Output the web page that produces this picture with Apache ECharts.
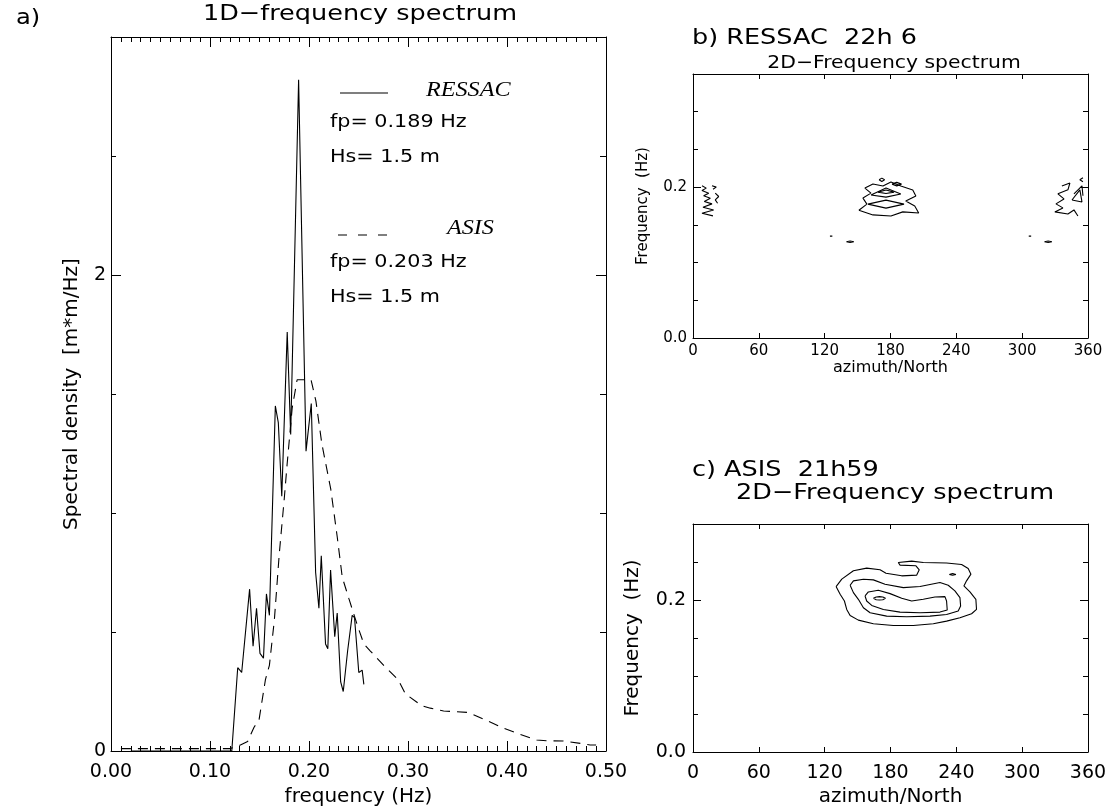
<!DOCTYPE html>
<html><head><meta charset="utf-8">
<script src="https://cdn.jsdelivr.net/npm/echarts@6/dist/echarts.min.js"></script>
<style>html,body{margin:0;padding:0;background:#fff}#c{width:1107px;height:809px}</style>
</head><body><div id="c"></div>
<script>
// ---------- Panel a: 1D spectra ----------
const ressacFreq = [0.020, 0.122, 0.124, 0.128, 0.132, 0.140, 0.1435, 0.147, 0.1505, 0.154, 0.157, 0.160, 0.166, 0.169, 0.1725, 0.178, 0.1815, 0.1895, 0.197, 0.2023, 0.2067, 0.210, 0.2124, 0.2167, 0.219, 0.2218, 0.226, 0.2285, 0.232, 0.2346, 0.239, 0.2436, 0.246, 0.2503, 0.2537, 0.2554];
const ressacDensity = [0.0, 0.0, 0.0, 0.35, 0.33, 0.68, 0.44, 0.60, 0.41, 0.39, 0.66, 0.57, 1.45, 1.38, 1.07, 1.76, 1.33, 2.82, 1.26, 1.46, 0.75, 0.60, 0.82, 0.45, 0.43, 0.76, 0.48, 0.58, 0.29, 0.25, 0.42, 0.57, 0.56, 0.33, 0.34, 0.28];
const asisFreq = [0.010, 0.120, 0.128, 0.138, 0.1445, 0.1495, 0.156, 0.160, 0.165, 0.170, 0.175, 0.178, 0.183, 0.188, 0.195, 0.202, 0.207, 0.213, 0.222, 0.2285, 0.2336, 0.2403, 0.2487, 0.2554, 0.262, 0.2755, 0.290, 0.2974, 0.314, 0.3226, 0.336, 0.3444, 0.3612, 0.378, 0.3965, 0.410, 0.430, 0.440, 0.457, 0.474, 0.484, 0.490];
const asisDensity = [0.01, 0.01, 0.02, 0.04, 0.10, 0.13, 0.30, 0.36, 0.55, 0.83, 1.06, 1.21, 1.44, 1.56, 1.56, 1.56, 1.47, 1.29, 1.10, 0.90, 0.73, 0.64, 0.53, 0.45, 0.42, 0.36, 0.30, 0.24, 0.19, 0.18, 0.168, 0.166, 0.162, 0.131, 0.096, 0.075, 0.046, 0.043, 0.042, 0.032, 0.025, 0.025];
const densityLabelValues = [0, 2];
const legendRessac = ['RESSAC', 'fp= 0.189 Hz', 'Hs= 1.5 m'];
const legendAsis = ['ASIS', 'fp= 0.203 Hz', 'Hs= 1.5 m'];

// ---------- Panel b: RESSAC 2D contours [azimuth, frequency] ----------
const ressacWestA = [[8.2,0.2018],[12.1,0.1987],[8.2,0.1956],[14.3,0.1920],[9.7,0.1885],[15.8,0.1854],[10.3,0.1809],[17.3,0.1778],[9.1,0.1734],[18.8,0.1698],[8.2,0.1654],[18.2,0.1619]];
const ressacWestB = [[17.3,0.2018],[21.2,0.2000],[18.2,0.1973]];
const ressacWestC = [[20.3,0.1920],[23.4,0.1876],[20.3,0.1831],[22.4,0.1787]];
const ressacMainOuter = [[151.2,0.1694],[158.5,0.1775],[154.9,0.1855],[162.2,0.1921],[156.7,0.1988],[164.0,0.2041],[173.1,0.2015],[180.4,0.2068],[189.4,0.2015],[200.3,0.1962],[203.1,0.1883],[193.9,0.1817],[202.1,0.1751],[205.7,0.1658],[191.2,0.1672],[180.4,0.1618],[164.0,0.1632],[151.2,0.1694]];
const ressacMainDiamond = [[162.2,0.1895],[175.9,0.1988],[189.4,0.1908],[175.9,0.1868],[162.2,0.1895]];
const ressacMainLow = [[159.4,0.1775],[175.9,0.1828],[192.3,0.1775],[175.9,0.1722],[159.4,0.1775]];
const ressacMainCore = [[168.6,0.1934],[175.9,0.1961],[183.2,0.1934],[175.9,0.1915],[168.6,0.1934]];
const ressacMainDot = [[169.6,0.2097],[172.1,0.2120],[174.6,0.2097],[172.1,0.2074],[169.6,0.2097]];
const ressacMainEar = [[181.4,0.2040],[185.7,0.2063],[190.0,0.2040],[185.7,0.2017],[181.4,0.2040]];
const ressacEastOuter = [[336.2,0.2015],[343.5,0.2055],[341.7,0.1964],[332.6,0.1911],[338.1,0.1844],[330.8,0.1778],[337.1,0.1725],[329.8,0.1672],[341.7,0.1644],[347.2,0.1698],[350.8,0.1618]];
const ressacEastTri1 = [[345.4,0.1830],[352.6,0.1964],[354.5,0.1804],[345.4,0.1830]];
const ressacEastTri2 = [[347.2,0.1911],[354.5,0.2017],[355.4,0.1885]];
const ressacEastHook = [[355.4,0.2124],[352.6,0.2097],[355.4,0.2071]];
const ressacSpeck1 = [[124.8,0.1350],[125.9,0.1375],[127.0,0.1350],[124.8,0.1350]];
const ressacSpeck2 = [[139.8,0.1277],[143.2,0.1287],[146.6,0.1277],[143.2,0.1267],[139.8,0.1277]];
const ressacSpeck3 = [[306.0,0.1350],[307.1,0.1375],[308.2,0.1350],[306.0,0.1350]];
const ressacSpeck4 = [[320.3,0.1277],[323.7,0.1287],[327.1,0.1277],[323.7,0.1267],[320.3,0.1277]];

// ---------- Panel c: ASIS 2D contours [azimuth, frequency] ----------
const asisOuter = [[130.4,0.2177],[135.6,0.2274],[146.2,0.2384],[158.3,0.2419],[170.5,0.2397],[175.9,0.2353],[190.2,0.2318],[203.8,0.2327],[206.2,0.2397],[203.2,0.2450],[188.7,0.2459],[187.1,0.2494],[199.3,0.2512],[209.9,0.2494],[231.1,0.2486],[244.8,0.2468],[250.8,0.2415],[253.3,0.2340],[249.3,0.2252],[246.9,0.2185],[252.4,0.2106],[257.8,0.2009],[258.4,0.1876],[253.9,0.1819],[243.3,0.1766],[231.1,0.1722],[219.0,0.1687],[200.8,0.1664],[182.6,0.1664],[164.4,0.1687],[150.7,0.1735],[143.2,0.1797],[140.1,0.1876],[138.0,0.1987],[134.1,0.2075],[130.4,0.2177]];
const asisMiddle = [[143.2,0.2194],[146.2,0.2252],[155.3,0.2274],[164.4,0.2265],[175.0,0.2208],[191.7,0.2163],[206.9,0.2177],[225.1,0.2230],[232.6,0.2194],[238.7,0.2119],[243.3,0.2031],[243.9,0.1921],[241.7,0.1854],[231.1,0.1810],[216.0,0.1788],[194.7,0.1779],[176.5,0.1788],[161.4,0.1832],[155.3,0.1898],[150.7,0.2009],[146.2,0.2097],[143.2,0.2194]];
const asisInner = [[156.8,0.2053],[159.8,0.2106],[168.9,0.2128],[179.6,0.2084],[190.2,0.2022],[199.3,0.1987],[209.9,0.2009],[220.5,0.2040],[229.6,0.2044],[231.1,0.1987],[231.7,0.1868],[225.1,0.1841],[206.9,0.1832],[188.7,0.1841],[173.5,0.1876],[162.9,0.1929],[158.3,0.1987],[156.8,0.2053]];
const asisPeakA = [[164.4,0.2022],[167,0.2040],[170,0.2044],[173,0.2040],[175.4,0.2022],[173,0.2004],[170,0.2000],[167,0.2004],[164.4,0.2022]];
const asisPeakB = [[233.6,0.2336],[236.6,0.2349],[239.6,0.2336],[236.6,0.2325],[233.6,0.2336]];
const azLabelStep = 60;
const freq2dLabelValues = [0, 0.2];

// ---------- build ----------
const FONT = '"DejaVu Sans", sans-serif';
const BLACK = '#000';
const zip = (xs, ys) => xs.map((x, i) => [x, ys[i]]);
const near = (v, arr) => arr.some(a => Math.abs(a - v) < 1e-9);

function xAx(grid, pos, min, max, interval, opts) {
  return Object.assign({
    type: 'value', gridIndex: grid, position: pos, min, max, interval,
    axisLine: {show: true, onZero: false, lineStyle: {color: BLACK, width: 1}},
    axisTick: {show: true, inside: true, length: 5, lineStyle: {color: BLACK}},
    axisLabel: {show: false},
    splitLine: {show: false}
  }, opts || {});
}
function yAx(grid, pos, min, max, interval, tickLen, opts) {
  return Object.assign({
    type: 'value', gridIndex: grid, position: pos, min, max, interval,
    axisLine: {show: true, onZero: false, lineStyle: {color: BLACK, width: 1}},
    axisTick: {show: true, inside: true, length: tickLen, lineStyle: {color: BLACK}},
    axisLabel: {show: false},
    splitLine: {show: false}
  }, opts || {});
}
function overlay(grid, pos, min, max, interval, tickLen) {
  return yAx(grid, pos, min, max, interval, tickLen, {axisLine: {show: false, onZero: false}});
}

const xAxes = [
  xAx(0, 'bottom', 0, 0.5, 0.1, {
    axisTick: {show: true, inside: true, length: 10, lineStyle: {color: BLACK}},
    minorTick: {show: true, splitNumber: 10, length: 5, lineStyle: {color: BLACK}},
    axisLabel: {show: true, color: BLACK, fontFamily: FONT, fontSize: 19, margin: 12, formatter: v => v.toFixed(2)},
    name: 'frequency (Hz)', nameLocation: 'middle', nameGap: 36,
    nameTextStyle: {color: BLACK, fontFamily: FONT, fontSize: 20}
  }),
  xAx(0, 'top', 0, 0.5, 0.1, {
    axisTick: {show: true, inside: true, length: 10, lineStyle: {color: BLACK}},
    minorTick: {show: true, splitNumber: 10, length: 5, lineStyle: {color: BLACK}}
  }),
  xAx(1, 'bottom', 0, 360, azLabelStep, {
    axisLabel: {show: true, color: BLACK, fontFamily: FONT, fontSize: 15, margin: 6},
    name: 'azimuth/North', nameLocation: 'middle', nameGap: 22,
    nameTextStyle: {color: BLACK, fontFamily: FONT, fontSize: 16}
  }),
  xAx(1, 'top', 0, 360, azLabelStep),
  xAx(2, 'bottom', 0, 360, azLabelStep, {
    axisLabel: {show: true, color: BLACK, fontFamily: FONT, fontSize: 19, margin: 12},
    name: 'azimuth/North', nameLocation: 'middle', nameGap: 35,
    nameTextStyle: {color: BLACK, fontFamily: FONT, fontSize: 20}
  }),
  xAx(2, 'top', 0, 360, azLabelStep)
];

const yAxes = [
  yAx(0, 'left', 0, 3, 0.5, 5, {
    axisLabel: {show: true, color: BLACK, fontFamily: FONT, fontSize: 19, margin: 5,
      formatter: v => near(v, densityLabelValues) ? String(Math.round(v)) : ''},
    name: 'Spectral density  [m*m/Hz]', nameLocation: 'middle', nameGap: 29,
    nameTextStyle: {color: BLACK, fontFamily: FONT, fontSize: 20}
  }),
  overlay(0, 'left', 0, 3, 2, 10),
  yAx(0, 'right', 0, 3, 0.5, 6),
  overlay(0, 'right', 0, 3, 2, 10),
  yAx(1, 'left', 0, 0.35, 0.05, 5, {
    axisLabel: {show: true, color: BLACK, fontFamily: FONT, fontSize: 15, margin: 6,
      formatter: v => near(v, freq2dLabelValues) ? v.toFixed(1) : ''},
    name: 'Frequency  (Hz)', nameLocation: 'middle', nameGap: 42,
    nameTextStyle: {color: BLACK, fontFamily: FONT, fontSize: 15}
  }),
  overlay(1, 'left', 0, 0.35, 0.2, 8),
  yAx(1, 'right', 0, 0.35, 0.05, 5),
  overlay(1, 'right', 0, 0.35, 0.2, 8),
  yAx(2, 'left', 0, 0.3, 0.05, 5, {
    axisLabel: {show: true, color: BLACK, fontFamily: FONT, fontSize: 19, margin: 7,
      formatter: v => near(v, freq2dLabelValues) ? v.toFixed(1) : ''},
    name: 'Frequency  (Hz)', nameLocation: 'middle', nameGap: 50,
    nameTextStyle: {color: BLACK, fontFamily: FONT, fontSize: 20}
  }),
  overlay(2, 'left', 0, 0.3, 0.2, 8),
  yAx(2, 'right', 0, 0.3, 0.05, 5),
  overlay(2, 'right', 0, 0.3, 0.2, 8)
];

function lineSeries(name, data, xi, yi, dashed) {
  return {
    name, type: 'line', xAxisIndex: xi, yAxisIndex: yi, data,
    symbol: 'none', silent: true, animation: false, clip: true,
    lineStyle: {color: BLACK, width: 1.1, type: dashed ? [10, 7] : 'solid'}
  };
}
const ressacContours = [ressacWestA, ressacWestB, ressacWestC, ressacMainOuter, ressacMainDiamond, ressacMainLow, ressacMainCore, ressacMainDot, ressacMainEar, ressacEastOuter, ressacEastTri1, ressacEastTri2, ressacEastHook, ressacSpeck1, ressacSpeck2, ressacSpeck3, ressacSpeck4];
const asisContours = [asisOuter, asisMiddle, asisInner, asisPeakA, asisPeakB];

const series = [
  lineSeries('RESSAC', zip(ressacFreq, ressacDensity), 0, 0, false),
  lineSeries('ASIS', zip(asisFreq, asisDensity), 0, 0, true)
];
ressacContours.forEach((c, i) => series.push(lineSeries('b' + i, c, 2, 4, false)));
asisContours.forEach((c, i) => series.push(lineSeries('c' + i, c, 4, 8, false)));

function txt(text, x, y, size, align, scaleX, extra) {
  return {
    type: 'text', x, y, scaleX: scaleX || 1, silent: true,
    style: Object.assign({text, fill: BLACK, fontFamily: FONT, fontSize: size,
      align: align || 'left', verticalAlign: 'middle'}, extra || {})
  };
}
const SERIF = '"Liberation Serif", "DejaVu Serif", serif';
const graphic = [
  txt('a)', 16, 18, 22, 'left', 1.1),
  txt('1D\u2212frequency spectrum', 360, 14, 22, 'center', 1.16),
  {type: 'line', silent: true, shape: {x1: 340, y1: 93, x2: 388, y2: 93}, style: {stroke: BLACK, lineWidth: 1.1}},
  txt(legendRessac[0], 426, 90, 21, 'left', 1.15, {fontFamily: SERIF, fontStyle: 'italic'}),
  txt(legendRessac[1], 330, 122, 18, 'left', 1.15),
  txt(legendRessac[2], 330, 157, 18, 'left', 1.15),
  {type: 'line', silent: true, shape: {x1: 338, y1: 235, x2: 390, y2: 235}, style: {stroke: BLACK, lineWidth: 1.1, lineDash: [9, 11]}},
  txt(legendAsis[0], 447, 228, 21, 'left', 1.15, {fontFamily: SERIF, fontStyle: 'italic'}),
  txt(legendAsis[1], 330, 262, 18, 'left', 1.15),
  txt(legendAsis[2], 330, 297, 18, 'left', 1.15),
  txt('b) RESSAC  22h 6', 692, 38, 22, 'left', 1.16),
  txt('2D\u2212Frequency spectrum', 894, 63, 18, 'center', 1.13),
  txt('c) ASIS  21h59', 692, 470, 22, 'left', 1.16),
  txt('2D\u2212Frequency spectrum', 895, 493, 22, 'center', 1.16)
];

const chart = echarts.init(document.getElementById('c'), null, {renderer: 'canvas'});
chart.setOption({
  backgroundColor: '#fff',
  animation: false,
  grid: [
    {left: 111, top: 37, width: 495, height: 714, containLabel: false, outerBoundsMode: 'none'},
    {left: 693, top: 74, width: 395, height: 264, containLabel: false, outerBoundsMode: 'none'},
    {left: 693, top: 524, width: 395, height: 228, containLabel: false, outerBoundsMode: 'none'}
  ],
  xAxis: xAxes,
  yAxis: yAxes,
  series,
  graphic
});
</script>
</body></html>
